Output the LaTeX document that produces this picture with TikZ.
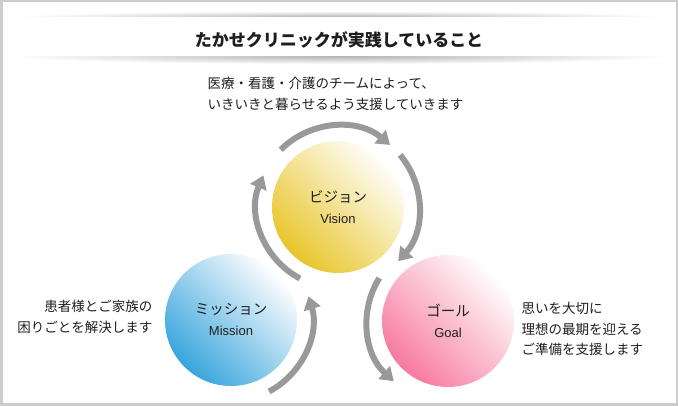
\documentclass[tikz,border=0pt]{standalone}
\usepackage{fontspec}
\setmainfont{Noto Sans CJK JP}
\newfontfamily\ensans{Liberation Sans}
\usetikzlibrary{arrows.meta}

\definecolor{framegray}{HTML}{CCCCCC}
\definecolor{cyclegray}{HTML}{999999}
\definecolor{visionyellow}{HTML}{E8C52A}
\definecolor{missionblue}{HTML}{38A4DC}
\definecolor{goalpink}{HTML}{F7799F}
\definecolor{textdark}{HTML}{1E1E1E}

\begin{document}
\begin{tikzpicture}[
    x=1pt, y=1pt,
    ball/.style={circle, minimum size=132pt, inner sep=0pt, align=center, text=textdark,
                 bottom color=#1, top color=white, shading angle=-45,
                 font=\fontsize{14.5}{22}\selectfont},
    cycarrow/.style={line width=6pt, draw=cyclegray, -{Triangle[width=17pt,length=13pt]}},
    body/.style={font=\fontsize{13.5}{20.5}\selectfont, text=textdark},
]
\useasboundingbox (0,0) rectangle (678,406);

% ---- 外枠 ----
\draw[framegray, line width=2.5pt] (1.25,1.25) rectangle (676.75,404.75);

% ---- 見出し帯 ----
\shade[inner color=black!30, outer color=white] (340,389) ellipse [x radius=330, y radius=6];
\shade[inner color=black!30, outer color=white] (340,350) ellipse [x radius=330, y radius=8];
\fill[white] (8,350) rectangle (670,389);
\node[font=\fontsize{17}{20}\selectfont\bfseries, text=textdark] (title) at (339,366)
    {たかせクリニックが実践していること};

% ---- 円 ----
\node[ball=visionyellow] (vision) at (338,199)
    {ビジョン\\[-1pt]{\ensans\fontsize{13}{15}\selectfont Vision}};
\node[ball=missionblue] (mission) at (231,86)
    {ミッション\\[-1pt]{\ensans\fontsize{13}{15}\selectfont Mission}};
\node[ball=goalpink] (goal) at (448,85)
    {ゴール\\[-1pt]{\ensans\fontsize{13}{15}\selectfont Goal}};

% ---- 循環の矢印 ----
\draw[cycarrow] ([shift={(135:81)}]vision.center) arc[start angle=135, end angle=50, radius=81];
\draw[cycarrow] ([shift={(40:81)}]vision.center) arc[start angle=40, end angle=-42, radius=81];
\draw[cycarrow] ([shift={(242:81)}]vision.center) arc[start angle=242, end angle=157, radius=81];
\draw[cycarrow] ([shift={(-62:81)}]mission.center) arc[start angle=-62, end angle=17, radius=81];
\draw[cycarrow] ([shift={(148:81)}]goal.center) arc[start angle=148, end angle=228, radius=81];

% ---- 説明文 ----
\node[body, anchor=west, align=left] (visiontext) at (204,312)
    {医療・看護・介護のチームによって、\\いきいきと暮らせるよう支援していきます};
\node[body, anchor=east, align=right] (missiontext) at (156,89)
    {患者様とご家族の\\困りごとを解決します};
\node[body, anchor=west, align=left] (goaltext) at (518,77)
    {思いを大切に\\理想の最期を迎える\\ご準備を支援します};

\end{tikzpicture}
\end{document}
